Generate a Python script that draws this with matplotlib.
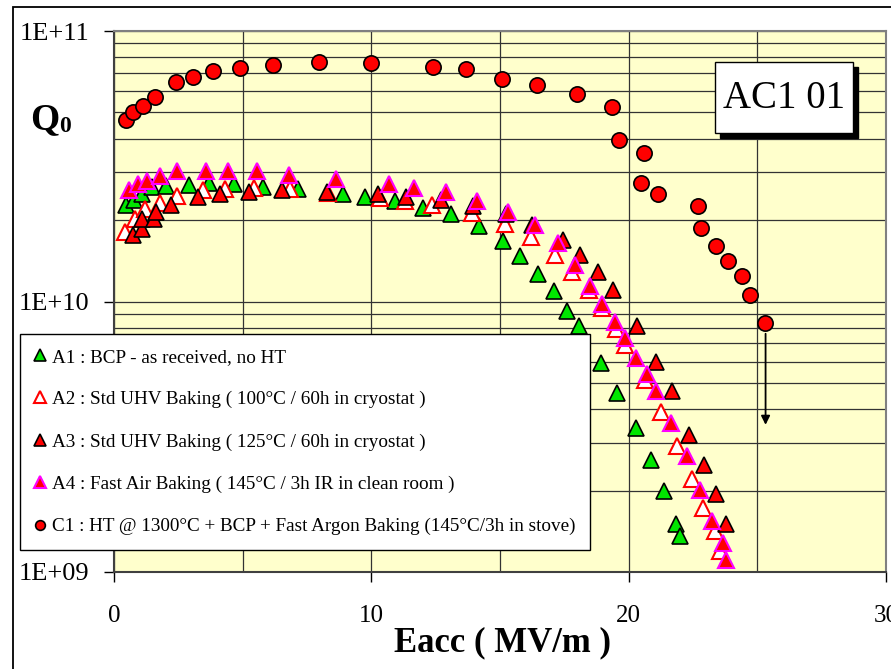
import numpy as np
import matplotlib
matplotlib.use("Agg")
import matplotlib.pyplot as plt
from matplotlib.lines import Line2D
from matplotlib.patches import Rectangle
from matplotlib.ticker import LogLocator, MultipleLocator, FixedLocator, FuncFormatter, NullFormatter

plt.rcParams['font.family'] = ['Liberation Serif', 'DejaVu Serif']

# --- data (Eacc in MV/m, Q0) ---
A1_E = [0.45, 0.78, 1.07, 1.49, 2.04, 2.92, 3.69, 4.66, 5.80, 7.16, 8.91, 9.77, 10.91, 11.99, 13.11,
        14.17, 15.12, 15.77, 16.48, 17.09, 17.62, 18.07, 18.91, 19.56, 20.27, 20.88, 21.36, 21.83, 22.01]
A1_Q = [2.28e10, 2.38e10, 2.50e10, 2.65e10, 2.68e10, 2.70e10, 2.74e10, 2.72e10, 2.64e10, 2.61e10,
        2.50e10, 2.43e10, 2.35e10, 2.22e10, 2.10e10, 1.90e10, 1.67e10, 1.47e10, 1.26e10, 1.09e10,
        9.21e9, 8.11e9, 5.94e9, 4.59e9, 3.42e9, 2.59e9, 2.00e9, 1.50e9, 1.36e9]

A2_E = [0.43, 0.82, 1.20, 1.79, 2.43, 3.47, 4.31, 5.45, 6.83, 8.32, 10.33, 11.30, 12.34, 13.92, 15.18,
        16.19, 17.15, 17.80, 18.46, 18.98, 19.50, 19.87, 20.62, 21.27, 21.88, 22.47, 22.89, 23.34, 23.53]
A2_Q = [1.81e10, 2.01e10, 2.19e10, 2.32e10, 2.45e10, 2.58e10, 2.61e10, 2.63e10, 2.61e10, 2.52e10,
        2.41e10, 2.35e10, 2.28e10, 2.12e10, 1.94e10, 1.73e10, 1.49e10, 1.29e10, 1.10e10, 9.49e9,
        7.89e9, 6.93e9, 5.13e9, 3.91e9, 2.93e9, 2.20e9, 1.72e9, 1.42e9, 1.20e9]

A3_E = [0.73, 1.10, 1.07, 1.56, 1.63, 2.20, 3.27, 4.12, 5.24, 6.54, 8.26, 10.26, 11.34, 12.72, 13.95,
        15.25, 16.24, 17.45, 18.10, 18.81, 19.39, 20.32, 21.05, 21.69, 22.34, 22.93, 23.40, 23.77]
A3_Q = [1.76e10, 1.86e10, 2.02e10, 2.02e10, 2.15e10, 2.28e10, 2.43e10, 2.50e10, 2.53e10, 2.59e10,
        2.55e10, 2.50e10, 2.43e10, 2.38e10, 2.25e10, 2.10e10, 1.92e10, 1.69e10, 1.48e10, 1.28e10,
        1.10e10, 8.15e9, 5.97e9, 4.67e9, 3.21e9, 2.48e9, 1.94e9, 1.50e9]

A4_E = [0.59, 0.92, 1.27, 1.79, 2.43, 3.57, 4.44, 5.54, 6.81, 8.62, 10.67, 11.67, 12.92, 14.11, 15.31,
        16.36, 17.26, 17.90, 18.49, 18.98, 19.46, 19.87, 20.27, 20.70, 21.05, 21.66, 22.26, 22.76,
        23.25, 23.66, 23.79]
A4_Q = [2.59e10, 2.72e10, 2.79e10, 2.90e10, 3.03e10, 3.03e10, 3.03e10, 3.03e10, 2.94e10, 2.84e10,
        2.72e10, 2.62e10, 2.53e10, 2.36e10, 2.14e10, 1.92e10, 1.65e10, 1.37e10, 1.14e10, 9.75e9,
        8.42e9, 7.30e9, 6.19e9, 5.38e9, 4.67e9, 3.57e9, 2.69e9, 2.01e9, 1.54e9, 1.28e9, 1.11e9]

C1_E = [0.45, 0.75, 1.11, 1.58, 2.41, 3.06, 3.83, 4.89, 6.19, 7.97, 9.99, 12.40, 13.67, 15.09, 16.45,
        17.99, 19.35, 19.61, 20.61, 20.48, 21.14, 22.68, 22.80, 23.39, 23.87, 24.39, 24.70, 25.28]
C1_Q = [4.70e10, 5.01e10, 5.28e10, 5.70e10, 6.50e10, 6.74e10, 7.11e10, 7.30e10, 7.50e10, 7.71e10,
        7.60e10, 7.38e10, 7.22e10, 6.67e10, 6.34e10, 5.86e10, 5.23e10, 3.97e10, 3.54e10, 2.74e10,
        2.50e10, 2.25e10, 1.87e10, 1.60e10, 1.41e10, 1.24e10, 1.06e10, 8.34e9]

labels = ["A1 : BCP - as received, no HT",
          "A2 : Std UHV Baking ( 100°C / 60h in cryostat )",
          "A3 : Std UHV Baking ( 125°C / 60h in cryostat )",
          "A4 : Fast Air Baking ( 145°C / 3h IR in clean room )",
          "C1 : HT @ 1300°C + BCP + Fast Argon Baking (145°C/3h in stove)"]
styles = [dict(marker="^", mfc="#00e600", mec="black", mew=1.2),
          dict(marker="^", mfc="white", mec="#ff0000", mew=1.5),
          dict(marker="^", mfc="#ff0000", mec="black", mew=1.2),
          dict(marker="^", mfc="#ff0000", mec="#ff00ff", mew=1.5),
          dict(marker="o", mfc="#ff0000", mec="black", mew=1.2)]
series = [(A1_E, A1_Q), (A2_E, A2_Q), (A3_E, A3_Q), (A4_E, A4_Q), (C1_E, C1_Q)]

W, H = 891, 669
def fx(px): return px / W
def fy(py): return 1 - py / H

fig = plt.figure(figsize=(8.91, 6.69), dpi=100)
# outer frame of the original sheet
fig.patches.append(Rectangle((fx(13), fy(700)), 2.0, fy(7) - fy(700), transform=fig.transFigure,
                             fill=False, ec="black", lw=1.3, clip_on=False))

ax = fig.add_axes([fx(114), fy(572), fx(886) - fx(114), fy(31) - fy(572)])
ax.set_facecolor("#ffffcc")
ax.set_yscale("log")
ax.set_xlim(0, 30)
ax.set_ylim(1e9, 1e11)

for (e, q), st in zip(series, styles):
    ms = 11 if st["marker"] == "o" else 12
    ax.plot(e, q, ls="none", ms=ms, zorder=3, clip_on=False, **st)

ax.annotate("", xy=(25.32, 3.5e9), xytext=(25.32, 7.6e9),
            arrowprops=dict(arrowstyle="-|>", color="black", lw=1.3, mutation_scale=13, shrinkA=0, shrinkB=0))

ax.xaxis.set_major_locator(FixedLocator([0, 10, 20, 30]))
ax.xaxis.set_minor_locator(MultipleLocator(5))
ax.yaxis.set_major_locator(LogLocator(base=10))
ax.yaxis.set_minor_locator(LogLocator(base=10, subs=range(2, 10)))
ax.yaxis.set_minor_formatter(NullFormatter())
ax.yaxis.set_major_formatter(FuncFormatter(lambda v, p: "1E+%02d" % int(round(np.log10(v)))))
ax.grid(True, which="both", color="#333333", lw=0.9, zorder=1)
ax.set_axisbelow(True)
ax.tick_params(which="minor", length=0)
ax.tick_params(axis="y", which="major", length=7, width=1, pad=11, labelsize=19)
ax.tick_params(axis="x", which="major", length=7, width=1, pad=17, labelsize=18)
for s in ax.spines.values():
    s.set_color("#808080")
    s.set_linewidth(1.5)
ax.spines["left"].set_color("#404040")
ax.spines["bottom"].set_color("#404040")

fig.text(fx(30), fy(120), "Q", fontsize=27, fontweight="bold", ha="left", va="center")
fig.text(fx(59), fy(127), "0", fontsize=17, fontweight="bold", ha="left", va="center")
fig.text(fx(502), fy(643), "Eacc ( MV/m )", fontsize=25, fontweight="bold", ha="center", va="center")

# AC1 01 label box with shadow
fig.patches.append(Rectangle((fx(720), fy(138)), fx(138), fy(62) - fy(133), transform=fig.transFigure,
                             fc="black", ec="black", zorder=5))
fig.patches.append(Rectangle((fx(715), fy(133)), fx(138), fy(62) - fy(133), transform=fig.transFigure,
                             fc="white", ec="black", lw=1, zorder=6))
fig.text(fx(784), fy(98), "AC1 01", fontsize=28, ha="center", va="center", zorder=7)

handles = [Line2D([], [], ls="none", ms=8 if st["marker"] == "^" else 7, **st) for st in styles]
leg = ax.legend(handles, labels, loc="upper left", bbox_to_anchor=(fx(20), fy(334)),
                bbox_transform=fig.transFigure, borderaxespad=0, fontsize=13.8, frameon=True,
                fancybox=False, framealpha=1, edgecolor="black", handlelength=0.6,
                handletextpad=0.3, labelspacing=1.3, borderpad=0.75)
leg.get_frame().set_linewidth(1.0)
leg.set_zorder(10)

fig.savefig("out.png", dpi=100)
